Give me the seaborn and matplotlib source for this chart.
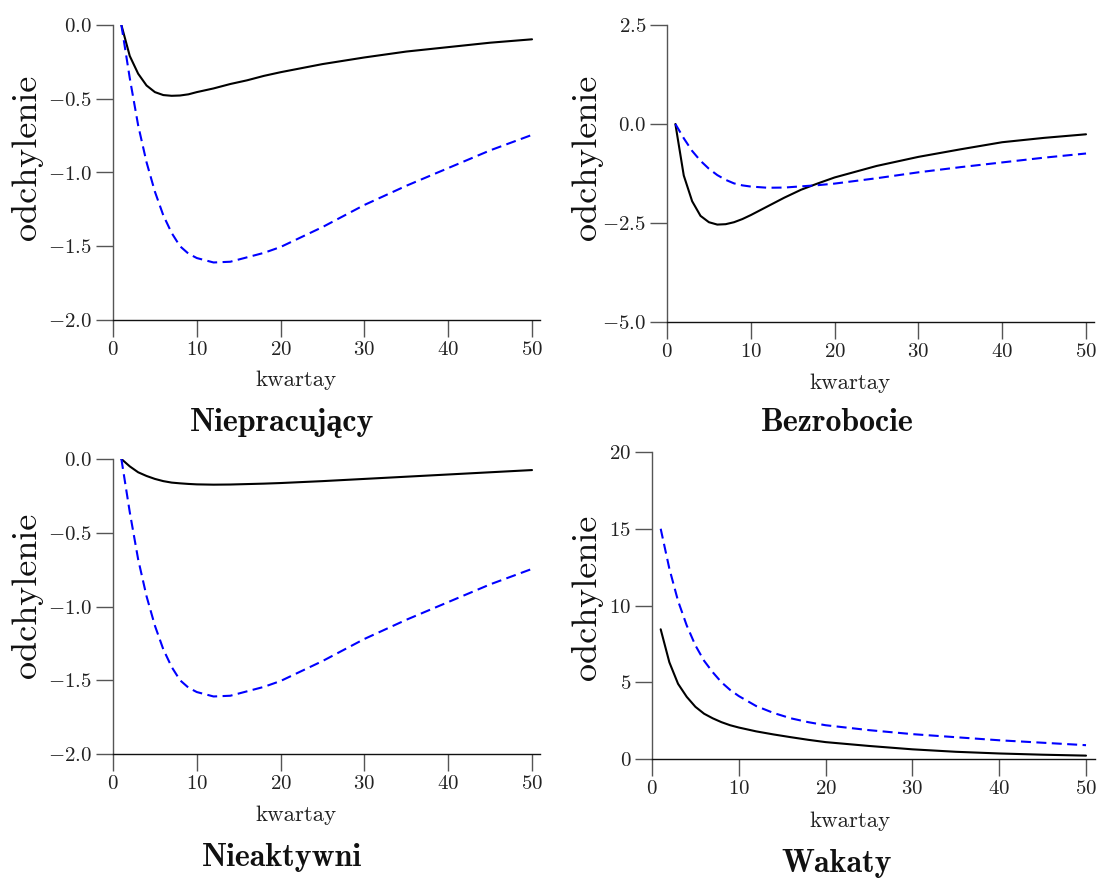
import numpy as np
import pandas as pd
import matplotlib
matplotlib.use("Agg")
import matplotlib.pyplot as plt
import seaborn as sns

# ---------------- data ----------------
kwartaly = [1, 2, 3, 4, 5, 6, 7, 8, 9, 10, 12, 14, 16, 18, 20, 25, 30, 35, 40, 45, 50]

# dashed (blue) series shared by the first three panels
dashed_common = [0.0, -0.36, -0.68, -0.93, -1.13, -1.29, -1.41, -1.50, -1.55, -1.58,
                 -1.61, -1.605, -1.575, -1.545, -1.505, -1.37, -1.22, -1.09, -0.97, -0.85, -0.745]

niepracujacy_solid = [0.0, -0.21, -0.33, -0.41, -0.455, -0.475, -0.48, -0.478, -0.47, -0.455,
                      -0.43, -0.40, -0.375, -0.345, -0.32, -0.265, -0.22, -0.18, -0.15, -0.12, -0.097]

bezrobocie_solid = [0.0, -1.30, -1.95, -2.32, -2.48, -2.54, -2.53, -2.48, -2.40, -2.30,
                    -2.08, -1.86, -1.66, -1.50, -1.35, -1.06, -0.83, -0.64, -0.46, -0.35, -0.26]

nieaktywni_solid = [0.0, -0.05, -0.09, -0.115, -0.135, -0.15, -0.16, -0.165, -0.169, -0.172,
                    -0.174, -0.173, -0.17, -0.167, -0.163, -0.15, -0.135, -0.12, -0.105, -0.09, -0.075]

wakaty_solid = [8.45, 6.30, 4.90, 4.05, 3.40, 2.95, 2.65, 2.40, 2.20, 2.05,
                1.80, 1.60, 1.42, 1.25, 1.10, 0.85, 0.63, 0.47, 0.36, 0.28, 0.22]
wakaty_dashed = [15.0, 12.4, 10.3, 8.7, 7.4, 6.4, 5.65, 5.0, 4.5, 4.1,
                 3.45, 3.0, 2.65, 2.4, 2.2, 1.88, 1.62, 1.42, 1.22, 1.06, 0.9]

titles = ["Niepracujący", "Bezrobocie", "Nieaktywni", "Wakaty"]
xlabel_text = "kwartay"
ylabel_text = "odchylenie"
xticks = [0, 10, 20, 30, 40, 50]
yticks_list = [[0.0, -0.5, -1.0, -1.5, -2.0],
               [2.5, 0.0, -2.5, -5.0],
               [0.0, -0.5, -1.0, -1.5, -2.0],
               [0, 5, 10, 15, 20]]
ylims = [(-2.0, 0.0), (-5.0, 2.5), (-2.0, 0.0), (0.0, 20.0)]

panels = [
    (niepracujacy_solid, dashed_common),
    (bezrobocie_solid, dashed_common),
    (nieaktywni_solid, dashed_common),
    (wakaty_solid, wakaty_dashed),
]

# ---------------- style ----------------
sns.set_style("ticks")
plt.rcParams['font.family'] = ['cmr10', 'Liberation Serif', 'DejaVu Serif']
plt.rcParams['axes.formatter.use_mathtext'] = True
plt.rcParams['mathtext.fontset'] = 'cm'
plt.rcParams['axes.unicode_minus'] = True

W, H = 1102, 880
fig = plt.figure(figsize=(W / 100, H / 100), dpi=100)

# axes boxes in pixels: left, right, top, bottom
boxes = [
    (113, 540.4, 25, 320),
    (667, 1094.4, 25, 322),
    (113, 540.4, 459, 754),
    (652, 1094.7, 452, 759),
]
xlabel_pos = [(296, 386), (850, 389), (296, 821), (850, 827)]
title_pos = [(282, 431), (837, 431), (282, 866), (837, 872)]
ylabel_pos = [(27, 157), (587, 157), (27, 595), (587, 597)]

for i, (solid, dashed) in enumerate(panels):
    l, r, t, b = boxes[i]
    ax = fig.add_axes([l / W, (H - b) / H, (r - l) / W, (b - t) / H])
    df = pd.DataFrame({"x": kwartaly, "solid": solid, "dashed": dashed})
    sns.lineplot(data=df, x="x", y="solid", ax=ax, color="black", lw=1.5)
    sns.lineplot(data=df, x="x", y="dashed", ax=ax, color="#0000ff", lw=1.5,
                 linestyle=(0, (4.8, 2.6)))
    ax.set_xlim(0, 51)
    ax.set_ylim(*ylims[i])
    ax.set_xticks(xticks)
    ax.set_yticks(yticks_list[i])
    ax.set_xlabel("")
    ax.set_ylabel("")
    for s in ["top", "right"]:
        ax.spines[s].set_visible(False)
    ax.spines["left"].set_color("#555555")
    ax.spines["bottom"].set_color("#111111")
    ax.spines["left"].set_linewidth(1.0)
    ax.spines["bottom"].set_linewidth(1.0)
    ax.tick_params(axis="both", direction="out", length=12, width=1.0, labelsize=15,
                   pad=3, color="#555555")
    for lab in ax.get_xticklabels() + ax.get_yticklabels():
        lab.set_color("#222222")

    fig.text(xlabel_pos[i][0] / W, (H - xlabel_pos[i][1]) / H, xlabel_text,
             ha="center", va="baseline", fontsize=16.5, color="#222222")
    fig.text(title_pos[i][0] / W, (H - title_pos[i][1]) / H, titles[i],
             ha="center", va="baseline", fontsize=23, fontweight="bold",
             family=['cmb10', 'Liberation Serif', 'DejaVu Serif'], color="#111111")
    fig.text(ylabel_pos[i][0] / W, (H - ylabel_pos[i][1]) / H, ylabel_text,
             ha="center", va="center", rotation=90, fontsize=26, color="#111111")

fig.savefig("out.png", dpi=100, facecolor="white")
